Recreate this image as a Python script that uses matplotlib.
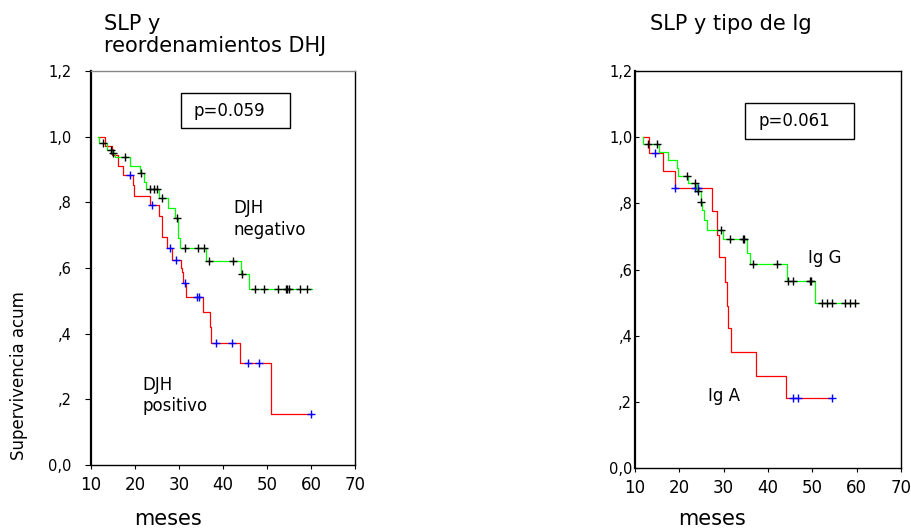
import numpy as np
import matplotlib
matplotlib.use('Agg')
import matplotlib.pyplot as plt
from matplotlib.patches import Rectangle

# left panel: DJH negativo / positivo
neg_t = [11.7, 11.8, 13.6, 14.8, 15.4, 18.9, 21.1, 22.1, 22.6, 25.5, 27.6, 29.1, 29.8, 30.2, 36.1, 44.1, 45.8]
neg_s = [1.0, 0.98, 0.96, 0.949, 0.937, 0.912, 0.888, 0.863, 0.84, 0.812, 0.782, 0.751, 0.69, 0.66, 0.621, 0.582, 0.535]
neg_end = 60.2
neg_cens = [12.8, 14.5, 15.1, 17.7, 21.4, 23.4, 24.2, 24.9, 26.1, 29.5, 31.4, 34.4, 35.7, 36.7, 42.2,
            44.4, 47.3, 49.2, 52.6, 54.3, 54.6, 55.0, 57.5, 59.0]

pos_t = [11.7, 13.2, 14.8, 16.2, 17.3, 19.5, 19.7, 23.4, 25.5, 26.2, 27.3, 28.5, 30.4, 30.6, 31.0, 31.6,
         35.5, 37.0, 37.3, 43.9, 50.8]
pos_s = [1.0, 0.972, 0.945, 0.912, 0.883, 0.853, 0.82, 0.792, 0.758, 0.693, 0.662, 0.624, 0.6, 0.589, 0.553,
         0.512, 0.467, 0.42, 0.371, 0.31, 0.155]
pos_end = 60.2
pos_cens = [18.9, 23.9, 28.0, 29.2, 31.3, 34.0, 34.6, 38.4, 42.0, 45.75, 48.25, 60.1]

# right panel: Ig G / Ig A
igg_t = [11.7, 11.8, 15.3, 17.5, 19.4, 19.8, 22.0, 24.0, 24.8, 25.0, 25.6, 26.2, 29.8, 35.2, 35.9, 44.2, 50.6]
igg_s = [1.0, 0.979, 0.954, 0.931, 0.906, 0.883, 0.861, 0.837, 0.805, 0.78, 0.75, 0.72, 0.692, 0.65, 0.616,
         0.566, 0.498]
igg_end = 60.4
igg_cens = [13.0, 14.9, 21.7, 23.5, 24.2, 24.9, 29.3, 31.4, 34.4, 34.6, 36.7, 42.0, 44.6, 45.7, 49.4, 49.6,
            52.1, 53.2, 54.4, 57.4, 58.5, 59.6]

iga_t = [11.7, 13.2, 16.2, 19.0, 27.3, 28.6, 29.0, 30.3, 30.7, 31.0, 31.6, 37.2, 44.0]
iga_s = [1.0, 0.951, 0.898, 0.845, 0.778, 0.704, 0.639, 0.563, 0.49, 0.422, 0.352, 0.279, 0.211]
iga_end = 54.5
iga_cens = [14.5, 19.1, 23.5, 24.0, 24.3, 45.7, 46.8, 54.5]

xticks = [10, 20, 30, 40, 50, 60, 70]
yticks = [0.0, 0.2, 0.4, 0.6, 0.8, 1.0, 1.2]
ylabels = ['0,0', ',2', ',4', ',6', ',8', '1,0', '1,2']


def km(ax, t, s, end, cens, col, ccol):
    tt = list(t) + [end]
    ss = list(s) + [s[-1]]
    ax.step(tt, ss, where='post', color=col, lw=0.9)
    idx = np.searchsorted(t, cens, side='right') - 1
    cy = np.array(s)[idx]
    ax.plot(cens, cy, '+', color=ccol, ms=6, mew=1.0, ls='none')


fig = plt.figure(figsize=(9.12, 5.28), dpi=100)
axl = fig.add_axes([0.0998, 0.1193, 0.2895, 0.7462])
axr = fig.add_axes([0.6963, 0.1136, 0.2917, 0.7519])

km(axl, pos_t, pos_s, pos_end, pos_cens, '#ff0000', '#0000ff')
km(axl, neg_t, neg_s, neg_end, neg_cens, '#00ff00', 'black')
km(axr, iga_t, iga_s, iga_end, iga_cens, '#ff0000', '#0000ff')
km(axr, igg_t, igg_s, igg_end, igg_cens, '#00ff00', 'black')

for ax in (axl, axr):
    ax.set_xlim(10, 70)
    ax.set_ylim(0, 1.2)
    ax.set_xticks(xticks)
    ax.set_yticks(yticks)
    ax.set_yticklabels(ylabels)
    ax.tick_params(axis='x', labelsize=12, length=3, pad=5)
    for sp in ax.spines.values():
        sp.set_linewidth(1.0)
    ax.spines['left'].set_linewidth(1.6)

axl.tick_params(axis='y', labelsize=10.5, length=4, pad=10)
axr.tick_params(axis='y', labelsize=10.5, length=3, direction='in', pad=2)
axl.spines['top'].set_color('#888888')

# p-value boxes
axl.add_patch(Rectangle((0.34, 0.855), 0.414, 0.088, transform=axl.transAxes, fill=False, lw=1.0, ec='black'))
axl.text(0.39, 0.898, 'p=0.059', transform=axl.transAxes, fontsize=12, va='center')
axr.add_patch(Rectangle((0.414, 0.83), 0.409, 0.089, transform=axr.transAxes, fill=False, lw=1.0, ec='black'))
axr.text(0.466, 0.874, 'p=0.061', transform=axr.transAxes, fontsize=12, va='center')

axl.text(42.3, 0.81, 'DJH\nnegativo', fontsize=12, va='top', ha='left', linespacing=1.25)
axl.text(21.6, 0.272, 'DJH\npositivo', fontsize=12, va='top', ha='left', linespacing=1.25)
axr.text(49.0, 0.662, 'Ig G', fontsize=12, va='top', ha='left')
axr.text(26.5, 0.244, 'Ig A', fontsize=12, va='top', ha='left')

fig.text(104 / 912, 1 - 14 / 528, 'SLP y\nreordenamientos DHJ', fontsize=15, va='top', ha='left', linespacing=1.15)
fig.text(650 / 912, 1 - 14 / 528, 'SLP y tipo de Ig', fontsize=15, va='top', ha='left')
fig.text(168 / 912, 1 - 519 / 528, 'meses', fontsize=15, ha='center', va='center')
fig.text(712 / 912, 1 - 519 / 528, 'meses', fontsize=15, ha='center', va='center')
fig.text(19 / 912, 1 - 376 / 528, 'Supervivencia acum', fontsize=12, rotation=90, ha='center', va='center')

fig.savefig('out.png', dpi=100)
